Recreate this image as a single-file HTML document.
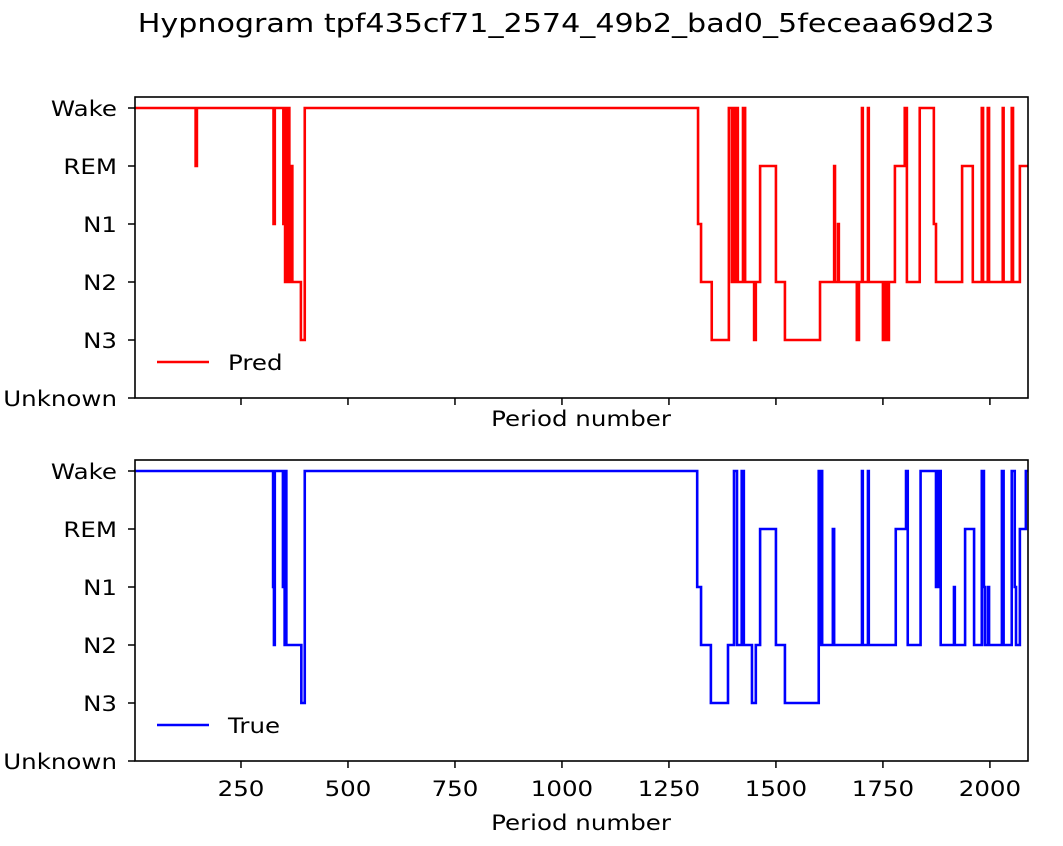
<!DOCTYPE html>
<html><head><meta charset="utf-8"><style>
body{margin:0;background:#fff}
svg text{font-family:"DejaVu Sans","Liberation Sans",sans-serif;fill:#000}
</style></head><body>
<svg id="fig" width="1063" height="841" viewBox="0 0 1063 841" xmlns="http://www.w3.org/2000/svg">
<rect width="1063" height="841" fill="#fff"/>
<text transform="translate(566,32) scale(1.16,1)" font-size="26" text-anchor="middle">Hypnogram tpf435cf71_2574_49b2_bad0_5feceaa69d23</text>
<g id="axes"></g>
</svg>
<script>
const stageLabels = ["Unknown","N3","N2","N1","REM","Wake"];
const xTicks = [250,500,750,1000,1250,1500,1750,2000];
const xMax = 2089;
// Pred series: change points (period) and stage index (0 Unknown .. 5 Wake)
const predTimes  = [0,144,147,326,329,349,353,355,358,361,363,366,370,390,399,1318,1325,1350,1390,1397,1402,1404,1409,1411,1423,1428,1449,1453,1463,1500,1521,1603,1636,1638,1645,1647,1689,1694,1701,1703,1715,1717,1750,1755,1759,1764,1778,1801,1806,1836,1869,1874,1935,1960,1981,1984,1995,1998,2030,2032,2051,2054,2070];
const predStages = [5,4,5,3,5,3,2,5,2,5,2,4,2,1,5,3,2,1,5,2,5,2,5,2,5,2,1,2,4,2,1,2,4,2,3,2,1,2,5,2,5,2,1,2,1,2,4,5,2,5,3,2,4,2,5,2,5,2,5,2,5,2,4];
// True series
const trueTimes  = [0,325,327,329,348,352,354,356,391,399,1316,1325,1348,1388,1402,1409,1420,1425,1444,1453,1463,1500,1521,1600,1602,1605,1608,1633,1636,1701,1703,1715,1717,1780,1804,1808,1838,1874,1879,1885,1916,1918,1942,1963,1981,1986,1988,1995,1998,2028,2032,2051,2058,2061,2070,2084];
const trueStages = [5,3,2,5,3,2,5,2,1,5,3,2,1,2,5,2,5,2,1,2,4,2,1,5,2,5,2,4,2,5,2,5,2,4,5,2,5,3,5,2,3,2,4,2,5,3,2,3,2,5,2,5,3,2,4,5];

const NS="http://www.w3.org/2000/svg";
const g=document.getElementById('axes');
const L=135,R=1028,FS=21.5,SX=1.14;
const x=p=>134+p*(R-134)/xMax;
function mk(tag,attrs,parent){const e=document.createElementNS(NS,tag);for(const k in attrs)e.setAttribute(k,attrs[k]);(parent||g).appendChild(e);return e;}
function txt(px,py,anchor,parent){return mk('text',{transform:'translate('+px+','+py+') scale('+SX+',1)','font-size':FS,'text-anchor':anchor},parent);}
function panel(name,off,times,stages,color,label,showTickLabels){
  const top=97+off,bot=398+off;
  const y=v=>bot-v*58;
  const grp=mk('g',{});
  
  
  let d='M'+x(times[0])+','+y(stages[0]);
  for(let i=1;i<times.length;i++){d+=' H'+x(times[i])+' V'+y(stages[i]);}
  d+=' H'+x(xMax);
  const ln=mk('path',{d:d,fill:'none',stroke:color,'stroke-width':2.6},grp);
  
  
  const fr=mk('rect',{x:L,y:top,width:R-L,height:bot-top,fill:'none',stroke:'#000','stroke-width':1.6},grp);
  
  
  stageLabels.forEach((s,i)=>{
    mk('line',{x1:L-7,x2:L,y1:y(i),y2:y(i),stroke:'#000','stroke-width':1.5},grp);
    const t=txt(117,y(i)+8,'end',grp);
    t.textContent=s;
    
    
  });
  xTicks.forEach(v=>{
    mk('line',{x1:x(v),x2:x(v),y1:bot,y2:bot+7,stroke:'#000','stroke-width':1.5},grp);
    if(showTickLabels){
      const t=txt(x(v),bot+35,'middle',grp);
      t.textContent=v;
      
      
    }
  });
  const xl=txt(581,showTickLabels?bot+69:bot+28,'middle',grp);
  xl.textContent='Period number';
  
  
  const lg=mk('g',{},grp);
  
  
  mk('line',{x1:157,x2:209,y1:bot-36,y2:bot-36,stroke:color,'stroke-width':2.6},lg);
  const lt=txt(228,bot-28,'start',lg);
  lt.textContent=label;
}
panel('pred',0,predTimes,predStages,'#ff0000','Pred',false);
panel('true',363,trueTimes,trueStages,'#0000ff','True',true);
</script>
</body></html>
